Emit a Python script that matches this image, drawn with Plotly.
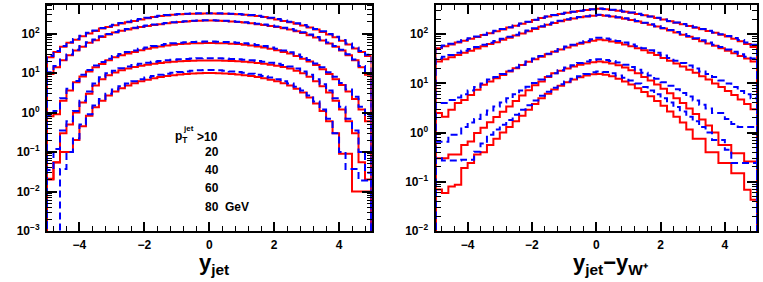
import numpy as np
import plotly.graph_objects as go

# ---------------- data ----------------
BIN_LO, BIN_HI, NBINS = -5.0, 5.0, 50
PT_CUTS = ["10", "20", "40", "60", "80"]

# Left panel: d(sigma)/d y_jet   (red solid / blue dashed), one list per pT cut
YJ_R10 = [25, 34, 46, 58, 70, 85, 100, 116, 134, 147, 163, 180, 193, 209, 227, 245, 262, 276, 288, 298, 306, 312, 316, 319, 321,
          321, 319, 316, 312, 306, 298, 288, 276, 262, 245, 227, 209, 193, 176, 160, 143, 126, 110, 95, 80, 66, 53, 42, 34, 27]
YJ_B10 = [27, 36, 48, 60, 73, 88, 104, 120, 138, 152, 168, 185, 198, 214, 232, 250, 267, 281, 293, 303, 311, 317, 321, 324, 326,
          326, 324, 321, 317, 311, 303, 293, 281, 267, 250, 232, 214, 198, 181, 165, 148, 130, 114, 98, 83, 69, 56, 44, 36, 29]
YJ_R20 = [9.5, 14, 21, 28, 37, 46, 58, 68, 82, 94, 106, 117, 126, 136, 147, 156, 165, 173, 181, 189, 196, 202, 207, 211, 214,
          214, 211, 207, 202, 196, 189, 181, 173, 165, 156, 147, 136, 126, 115, 103, 91, 79, 67, 56, 46, 37, 28, 21, 14, 9]
YJ_B20 = [10.5, 15, 22, 29.5, 39, 48, 60, 71, 85, 97, 109, 120, 130, 140, 151, 160, 169, 177, 185, 193, 200, 206, 211, 215, 218,
          218, 215, 211, 206, 200, 193, 185, 177, 169, 160, 151, 140, 130, 119, 107, 95, 82, 70, 59, 48, 39, 30, 22, 15, 10]
YJ_R40 = [0.8, 0.9, 2.0, 3.6, 5.8, 8.2, 11, 14, 17, 21, 25, 28, 31, 34, 37.5, 41, 44, 47, 50, 52, 54, 55.5, 56.5, 57, 57.5,
          57.5, 57, 56.5, 55.5, 54, 52, 50, 47, 44, 41, 37.5, 34, 31, 27, 23, 19.5, 16, 12.5, 9.5, 7, 5, 3.4, 2.2, 1.2, 0.6]
YJ_B40 = [0.85, 1.1, 2.3, 4.0, 6.3, 9, 12, 15.5, 19, 23, 27, 30.5, 34, 37, 41, 44.5, 48, 51, 54, 56.5, 58.5, 60, 61, 62, 62.5,
          62.5, 62, 61, 60, 58.5, 56.5, 54, 51, 48, 44.5, 41, 37, 33.5, 29.5, 25.5, 21.5, 17.5, 14, 10.5, 8, 5.6, 3.8, 2.5, 1.4, 0.8]
YJ_R60 = [0.02, 0.055, 0.3, 0.5, 1.0, 1.8, 3.0, 4.8, 7.0, 8.8, 10.3, 11.7, 13, 14.2, 15.3, 16.3, 17.2, 18, 18.7, 19.3, 19.8, 20.2, 20.5, 20.7, 20.8,
          20.8, 20.7, 20.5, 20.2, 19.8, 19.3, 18.7, 18, 17.2, 16.3, 15.3, 14.2, 13, 11.5, 9.8, 8, 6.2, 4.6, 3.2, 2.0, 1.2, 0.6, 0.3, 0.055, 0.02]
YJ_B60 = [0.035, 0.12, 0.35, 0.6, 1.1, 2.0, 3.4, 5.4, 7.8, 9.8, 11.5, 13.2, 14.7, 16, 17.2, 18.3, 19.3, 20.2, 21, 21.7, 22.3, 22.8, 23.2, 23.5, 23.7,
          23.7, 23.5, 23.2, 22.8, 22.3, 21.7, 21, 20.2, 19.3, 18.3, 17.2, 16, 14.7, 13, 11, 9, 7, 5.2, 3.6, 2.3, 1.4, 0.7, 0.35, 0.1, 0.03]
YJ_R80 = [0.021, 0.054, 0.1, 0.1, 0.2, 0.45, 0.83, 1.35, 2.0, 2.7, 3.4, 4.1, 4.8, 5.5, 6.2, 6.8, 7.4, 7.9, 8.4, 8.8, 9.2, 9.5, 9.7, 9.9, 10,
          10, 9.9, 9.7, 9.5, 9.2, 8.8, 8.4, 7.9, 7.4, 6.8, 6.2, 5.5, 4.8, 4.0, 3.2, 2.4, 1.7, 1.1, 0.6, 0.3, 0.09, 0.09, 0.01, 0.01, 0.01]
YJ_B80 = [0, 0, 0.037, 0.1, 0.22, 0.5, 0.9, 1.5, 2.2, 3.0, 3.8, 4.6, 5.4, 6.2, 7.0, 7.7, 8.4, 9.0, 9.6, 10.1, 10.6, 11, 11.4, 11.7, 11.9,
          11.9, 11.7, 11.4, 11, 10.6, 10.1, 9.6, 9.0, 8.4, 7.7, 7.0, 6.2, 5.4, 4.5, 3.6, 2.7, 1.9, 1.2, 0.7, 0.3, 0.1, 0.037, 0.037, 0.019, 0.019]

# Right panel: d(sigma)/d(y_jet - y_W+)
DY_R10 = [52, 57, 62, 68, 74, 81, 88, 96, 105, 115, 125, 137, 149, 163, 178, 195, 213, 228, 243, 258, 272, 285, 298, 310, 320,
          330, 322, 312, 300, 287, 273, 258, 243, 228, 213, 198, 184, 171, 159, 147, 136, 126, 116, 107, 98, 90, 81, 72, 63, 55]
DY_B10 = [54, 59, 64, 70, 76, 83, 90, 98, 107, 117, 127, 139, 151, 165, 180, 197, 215, 230, 245, 260, 274, 287, 300, 312, 322,
          332, 324, 314, 302, 289, 275, 260, 245, 230, 215, 200, 186, 173, 161, 149, 138, 128, 118, 109, 100, 92, 84, 76, 68, 61]
DY_R20 = [28, 31, 34, 38, 42, 46, 51, 57, 63, 69, 77, 85, 94, 104, 115, 128, 142, 156, 170, 184, 197, 209, 220, 230, 238,
          245, 238, 229, 219, 207, 195, 182, 169, 156, 143, 131, 119, 108, 98, 89, 80, 72, 65, 58, 52, 46, 41, 36, 32, 28]
DY_B20 = [32, 35, 38, 42, 46, 50, 55, 61, 67, 73, 81, 89, 98, 108, 119, 132, 146, 160, 174, 188, 201, 213, 224, 233, 241,
          248, 241, 232, 222, 210, 198, 185, 172, 159, 146, 134, 122, 111, 101, 92, 83, 75, 68, 61, 55, 49, 44, 39, 35, 32]
DY_R40 = [2.5, 2.1, 2.9, 4.0, 4.6, 5.8, 7.4, 9.4, 11, 12.7, 14.9, 17.4, 20.3, 23.8, 27.7, 31, 35, 39, 44, 49, 54, 59, 64, 69, 74,
          78, 75, 71, 67, 62, 57, 52, 47, 42, 38, 33, 29, 25.5, 22, 19, 16.5, 14, 12, 10, 8.5, 7, 5.8, 4.7, 3.8, 3.0]
DY_B40 = [4.0, 4.0, 4.6, 5.2, 6.0, 7.2, 8.5, 10, 12, 13.5, 15.5, 18, 21, 24, 28, 32, 36, 40, 45, 50, 56, 61, 67, 73, 79,
          85, 82, 78, 73, 68, 62, 57, 52, 47, 42, 37, 33, 29, 26, 23, 20, 17.5, 15.5, 13.5, 11.5, 10, 8.5, 7, 6, 5.0]
DY_R60 = [0.30, 0.30, 0.36, 0.36, 0.56, 0.66, 0.98, 1.26, 1.62, 2.08, 2.67, 3.4, 4.4, 5.7, 7.3, 9.2, 11, 13.5, 16, 18, 20, 22, 24, 25.5, 27,
          28, 27, 25.5, 23.5, 21, 18.5, 16, 13.5, 11.5, 9.5, 7.8, 6.3, 5.0, 4.0, 3.1, 2.4, 1.85, 1.4, 1.0, 0.56, 0.56, 0.38, 0.38, 0.26, 0.26]
DY_B60 = [0.65, 0.65, 0.9, 0.9, 1.3, 1.6, 1.9, 2.3, 2.8, 3.4, 4.1, 5.0, 6.0, 7.2, 8.6, 10.2, 12, 14, 16, 18.5, 21, 23.5, 26, 28, 30,
          31, 30, 28.5, 26.5, 24, 21.5, 19, 16.5, 14.5, 12.5, 10.5, 9, 7.6, 6.4, 5.4, 4.5, 3.7, 3.1, 2.5, 2.5, 1.9, 1.5, 1.3, 1.3, 1.3]
DY_R80 = [0.07, 0.059, 0.08, 0.087, 0.19, 0.24, 0.36, 0.40, 0.56, 0.75, 1.0, 1.3, 1.7, 2.2, 2.9, 3.8, 5.0, 6.2, 7.5, 9.0, 10.5, 12, 13.3, 14.5, 15.3,
          15.5, 15, 14, 12.5, 11, 9.5, 8, 6.7, 5.5, 4.4, 3.5, 2.7, 2.1, 1.6, 1.15, 0.75, 0.75, 0.40, 0.40, 0.24, 0.24, 0.15, 0.15, 0.069, 0.043]
DY_B80 = [0.30, 0.27, 0.27, 0.27, 0.28, 0.28, 0.41, 0.60, 0.90, 1.15, 1.45, 1.8, 2.3, 2.9, 3.6, 4.5, 5.6, 6.8, 8.2, 9.6, 11, 12.5, 14, 15.5, 16.8,
          17.5, 17, 16, 14.5, 13, 11.5, 10, 8.5, 7.2, 6.0, 5.0, 4.1, 3.3, 2.7, 2.1, 1.7, 1.3, 1.0, 0.71, 0.71, 0.45, 0.24, 0.24, 0.24, 0.24]

LEFT_RED = [YJ_R10, YJ_R20, YJ_R40, YJ_R60, YJ_R80]
LEFT_BLUE = [YJ_B10, YJ_B20, YJ_B40, YJ_B60, YJ_B80]
RIGHT_RED = [DY_R10, DY_R20, DY_R40, DY_R60, DY_R80]
RIGHT_BLUE = [DY_B10, DY_B20, DY_B40, DY_B60, DY_B80]

X_TICKS = [-4, -2, 0, 2, 4]
X_TICK_TEXT = ["\u22124", "\u22122", "0", "2", "4"]
Y_EXPONENTS = [-3, -2, -1, 0, 1, 2]

# ---------------- styling ----------------
W, H = 763, 282
FLOOR = 1e-6
RED = "#ff0000"
BLUE = "#0000ff"
FONT = "Liberation Sans"

edges = np.linspace(BIN_LO, BIN_HI, NBINS + 1)


def step_xy(vals):
    v = [x if x > 0 else FLOOR for x in vals]
    xs = [BIN_LO] + list(edges) + [BIN_HI]
    ys = [FLOOR] + v + [v[-1], FLOOR]
    return xs, ys


def exp_text(e):
    s = str(e).replace("-", "\u2212")
    return "10<sup>" + s + "</sup>"


fig = go.Figure()
for reds, blues, xa, ya in [(LEFT_RED, LEFT_BLUE, "x", "y"), (RIGHT_RED, RIGHT_BLUE, "x2", "y2")]:
    for vals in reds:
        xs, ys = step_xy(vals)
        fig.add_trace(go.Scatter(x=xs, y=ys, mode="lines", line=dict(color=RED, width=2, shape="hv"),
                                 xaxis=xa, yaxis=ya, showlegend=False, hoverinfo="skip"))
    for vals in blues:
        xs, ys = step_xy(vals)
        fig.add_trace(go.Scatter(x=xs, y=ys, mode="lines",
                                 line=dict(color=BLUE, width=2, shape="hv", dash="7px,4px"),
                                 xaxis=xa, yaxis=ya, showlegend=False, hoverinfo="skip"))

tickfont = dict(family=FONT, size=12, color="black", weight="bold")

xcommon = dict(range=[BIN_LO, BIN_HI], tickmode="array", tickvals=X_TICKS, ticktext=X_TICK_TEXT,
               ticks="inside", ticklen=9, tickwidth=1.5, tickcolor="black",
               minor=dict(dtick=0.4, tick0=0, ticks="inside", ticklen=5, tickwidth=1.2, tickcolor="black"),
               showline=True, linewidth=2, linecolor="black", mirror="allticks", automargin=False,
               showgrid=False, zeroline=False, tickfont=tickfont, ticklabelstandoff=2)


def ycommon(lo, hi):
    exps = [e for e in Y_EXPONENTS if lo <= e <= hi]
    return dict(type="log", range=[lo, hi], tickmode="array",
                tickvals=[10.0 ** e for e in exps], ticktext=[exp_text(e) for e in exps],
                ticks="inside", ticklen=10, tickwidth=1.5, tickcolor="black",
                minor=dict(dtick="D1", ticks="inside", ticklen=5, tickwidth=1.2, tickcolor="black"),
                showline=True, linewidth=2, linecolor="black", mirror="allticks", automargin=False,
                showgrid=False, zeroline=False, tickfont=tickfont, ticklabelstandoff=3)


ydom = [1 - 231 / H, 1 - 4.7 / H]
fig.update_layout(
    width=W, height=H, margin=dict(l=0, r=0, t=0, b=0, autoexpand=False),
    paper_bgcolor="white", plot_bgcolor="white", showlegend=False,
    xaxis=dict(domain=[47 / W, 371.5 / W], anchor="y", **xcommon),
    yaxis=dict(domain=ydom, anchor="x", **ycommon(-3, 2.73)),
    xaxis2=dict(domain=[435.5 / W, 757 / W], anchor="y2", **xcommon),
    yaxis2=dict(domain=ydom, anchor="x2", **ycommon(-2, 2.6)),
)

ann_font = dict(family=FONT, size=12, color="black", weight="bold")
ann = []
# pT labels
ann.append(dict(x=195 / W, y=1 - 137 / H, xref="paper", yref="paper", xanchor="left", yanchor="middle",
                text=">" + PT_CUTS[0], showarrow=False, font=ann_font))
ann.append(dict(x=190 / W, y=1 - 137 / H, xref="paper", yref="paper", xanchor="right", yanchor="middle",
                text="p<sub>T</sub>", showarrow=False, font=ann_font))
ann.append(dict(x=181 / W, y=1 - 129 / H, xref="paper", yref="paper", xanchor="left", yanchor="middle",
                text="jet", showarrow=False, font=dict(family=FONT, size=8, color="black", weight="bold")))
for i, (cut, ypix) in enumerate(zip(PT_CUTS[1:], [152, 170, 188, 207])):
    txt = cut + ("  GeV" if i == 3 else "")
    ann.append(dict(x=203 / W, y=1 - ypix / H, xref="paper", yref="paper", xanchor="left", yanchor="middle",
                    text=txt, showarrow=False, font=ann_font))
# axis titles
title_font = dict(family=FONT, size=22, color="black", weight="bold")
ann.append(dict(x=214 / W, y=1 - 264 / H, xref="paper", yref="paper", xanchor="center", yanchor="middle",
                text="y<sub>jet</sub>", showarrow=False, font=title_font))
ann.append(dict(x=610 / W, y=1 - 264 / H, xref="paper", yref="paper", xanchor="center", yanchor="middle",
                text="y<sub>jet</sub>\u2212y<sub>W\u207a</sub>", showarrow=False, font=title_font))
fig.update_layout(annotations=ann)

fig.write_html("out.html", config={"displayModeBar": False, "responsive": False},
               post_script="document.body.style.margin='0px';")
